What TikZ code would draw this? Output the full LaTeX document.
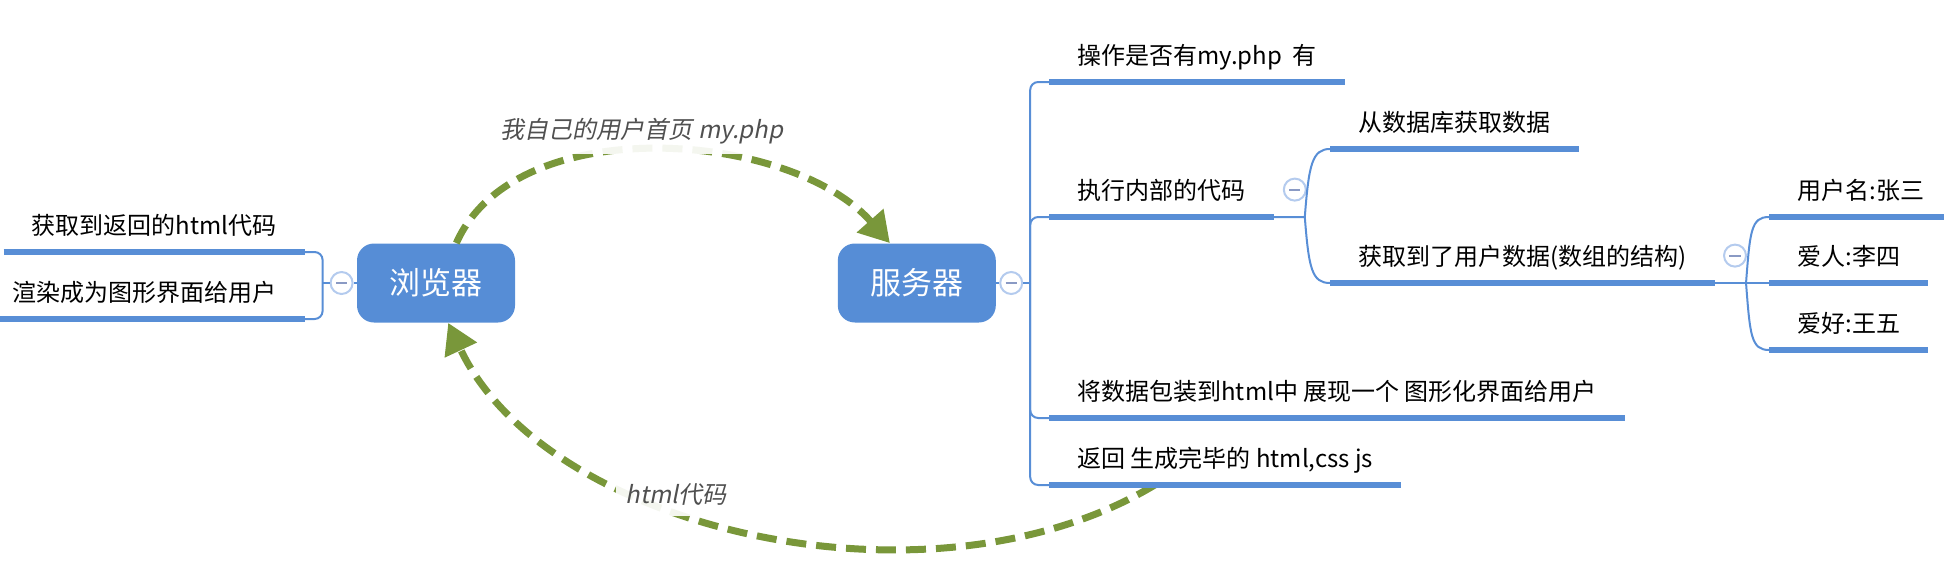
\documentclass[tikz,border=0pt]{standalone}
\usepackage{fontspec}
\setmainfont{Noto Sans CJK SC}
\newfontfamily\notefont[FakeSlant=0.2]{Noto Sans CJK SC}
\usetikzlibrary{positioning,calc,arrows.meta}

\definecolor{boxblue}{RGB}{86,141,214}
\definecolor{barblue}{RGB}{88,142,214}
\definecolor{btnring}{RGB}{180,203,238}
\definecolor{btnminus}{RGB}{138,154,196}
\definecolor{flowgreen}{RGB}{121,151,58}
\definecolor{notegray}{RGB}{80,80,80}

\tikzset{
  hub/.style={rectangle, rounded corners=8.5pt, fill=boxblue, text=white,
    minimum width=79pt, minimum height=39.5pt, font=\fontsize{15.5}{18}\selectfont},
  leaf/.style={inner xsep=14pt, inner ysep=6.5pt, text height=12pt, text depth=2pt,
    font=\fontsize{12}{14}\selectfont},
  rleaf/.style={leaf, anchor=south west},
  lleaf/.style={leaf, anchor=south east},
  bar/.style={barblue, line width=3pt},
  conn/.style={barblue, line width=1pt},
  btn/.style={circle, draw=btnring, fill=white, line width=1pt, minimum size=11pt, inner sep=0pt,
    path picture={\draw[btnminus, line width=1pt]
      ([xshift=-2.8pt]path picture bounding box.center) -- ([xshift=2.8pt]path picture bounding box.center);}},
  flow/.style={flowgreen, line width=3.5pt, dash pattern=on 10pt off 5pt,
    -{Triangle[length=15pt,width=17pt]}},
  note/.style={font=\notefont\fontsize{12}{14}\selectfont, text=notegray,
    fill=white, fill opacity=.92, text opacity=1, inner sep=5pt}
}

\begin{document}
\begin{tikzpicture}[x=0.5pt, y=-0.5pt]
    \useasboundingbox (0,0) rectangle (1944,562);

    \node[hub] (brw) at (436,283) {浏览器};
    \node[hub, right=161pt of brw] (srv) {服务器};
    \node[btn, left=1.5pt of brw] (bbtn) {};
    \node[btn, right=1.5pt of srv] (sbtn) {};
    \coordinate[left=3.5pt of bbtn] (lc);
    \coordinate[right=3.5pt of sbtn] (rc);

    \node[lleaf] (l1) at (305,252) {获取到返回的html代码};
    \node[lleaf] (l2) at (305,319) {渲染成为图形界面给用户};

    \node[rleaf] (r1) at (1049,82) {操作是否有my.php\ \ 有};
    \node[rleaf] (r2) at (1049,217) {执行内部的代码};
    \node[rleaf] (r3) at (1049,418) {将数据包装到html中 展现一个 图形化界面给用户};
    \node[rleaf] (r4) at (1049,485) {返回 生成完毕的 html,css js};

    \node[rleaf] (d1) at (1330,149) {从数据库获取数据};
    \node[rleaf] (d2) at (1330,283) {获取到了用户数据(数组的结构)};

    \node[rleaf] (e1) at (1769,217) {用户名:张三};
    \node[rleaf] (e2) at (1769,283) {爱人:李四};
    \node[rleaf] (e3) at (1769,350) {爱好:王五};

    \node[btn, right=4.5pt of r2] (b2) {};
    \node[btn, right=4pt of d2] (b3) {};
    \coordinate[right=15.5pt of r2.south east] (rj);
    \coordinate[right=15.5pt of d2.south east] (dj);

    \draw[conn] (brw) -- (bbtn) -- (lc);
    \draw[conn, rounded corners=4pt] (l1.south east) -| (lc) |- (l2.south east);
    \draw[conn] (srv) -- (sbtn) -- (rc);
    \draw[conn, rounded corners=4pt] (r1.south west) -| (rc) |- (r4.south west);
    \draw[conn, rounded corners=4pt] (rc) |- (r2.south west);
    \draw[conn, rounded corners=4pt] (rc) |- (r3.south west);

    \draw[conn] (r2.south east) -- (rj) .. controls +(2pt,26pt) and +(-9pt,0pt) .. (d1.south west);
    \draw[conn] (rj) .. controls +(2pt,-26pt) and +(-9pt,0pt) .. (d2.south west);
    \draw[conn] (d2.south east) -- (e2.south west);
    \draw[conn] (dj) .. controls +(2pt,26pt) and +(-9pt,0pt) .. (e1.south west);
    \draw[conn] (dj) .. controls +(2pt,-26pt) and +(-9pt,0pt) .. (e3.south west);

    \draw[flow] (brw.63) .. controls (515,110) and (790,130) .. (srv.124);
    \draw[flow] ($(r4.south west)!0.3!(r4.south east)$) .. controls (930,620) and (545,530) .. (brw.-73);

    \foreach \n in {l1,l2,r1,r2,r3,r4,d1,d2,e1,e2,e3}
      \draw[bar] (\n.south west) -- (\n.south east);

    \node[note] (req) at (642,131) {我自己的用户首页 my.php};
    \node[note] (resp) at (676,495) {html代码};
  \end{tikzpicture}
\end{document}
